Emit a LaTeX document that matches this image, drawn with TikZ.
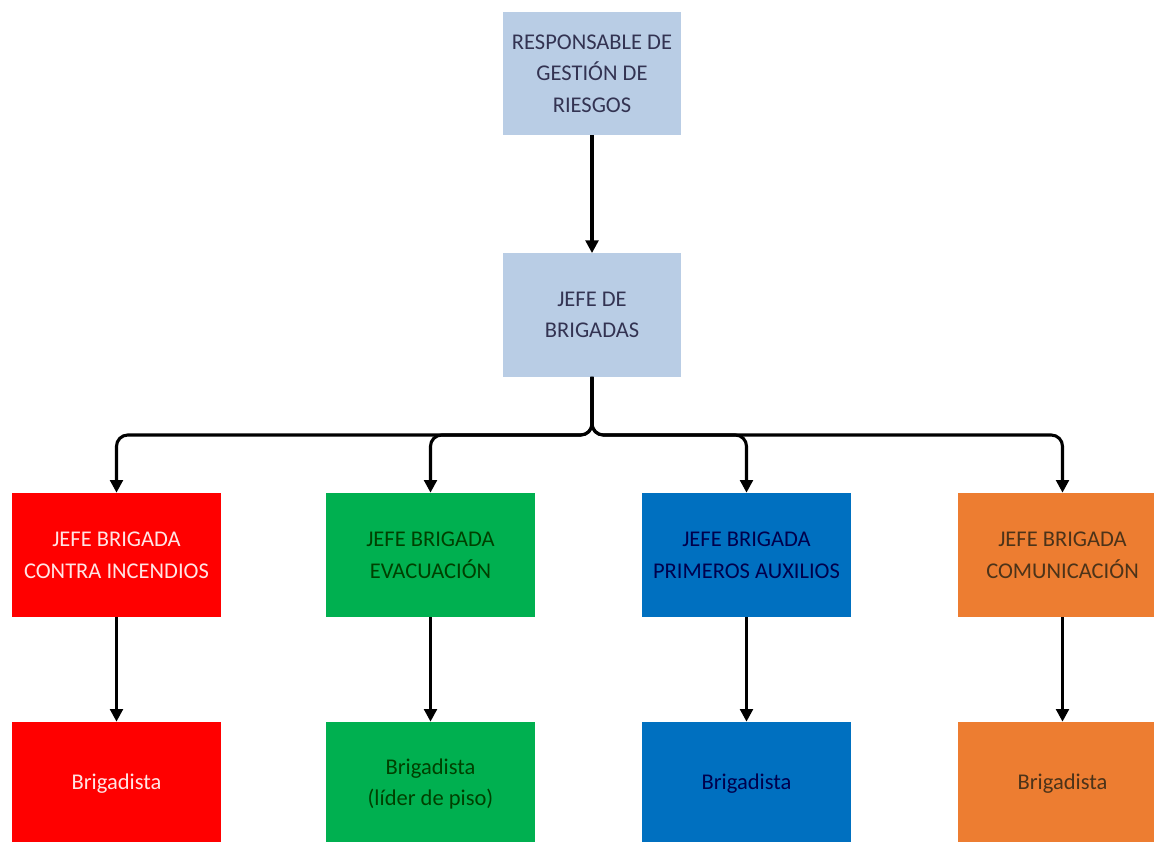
\documentclass[tikz,border=0pt]{standalone}
\usepackage{fontspec}
\setmainfont{Carlito}
\usetikzlibrary{arrows.meta}
\definecolor{azulclaro}{RGB}{185,205,229}
\definecolor{rojo}{RGB}{255,0,0}
\definecolor{verde}{RGB}{0,176,80}
\definecolor{azul}{RGB}{0,112,192}
\definecolor{naranja}{RGB}{237,125,49}
\begin{document}
\begin{tikzpicture}[x=0.025cm,y=-0.025cm,
    caja/.style={draw=none,align=center,inner sep=0pt,
      font=\fontsize{16}{22.5}\selectfont},
    jefe/.style={caja,fill=azulclaro,text=black!80!blue!60!gray,
      minimum width=4.45cm,minimum height=3.08cm},
    brigada/.style={caja,minimum width=5.23cm,minimum height=3.1cm},
    flecha/.style={line width=2.2pt,rounded corners=8,
      -{Triangle[length=9pt,width=9pt]}}]
  \clip (0,0) rectangle (1154,841);
  \fill[white] (0,0) rectangle (1154,841);

  \node[jefe] (resp) at (592,73.5) {RESPONSABLE DE\\GESTIÓN DE\\RIESGOS};
  \node[jefe] (jefebr) at (592,315) {JEFE DE\\BRIGADAS};

  \node[brigada,fill=rojo,text=red!10!white] (inc) at (116.5,555) {JEFE BRIGADA\\CONTRA INCENDIOS};
  \node[brigada,fill=verde,text=green!25!black] (evac) at (430.5,555) {JEFE BRIGADA\\EVACUACIÓN};
  \node[brigada,fill=azul,text=blue!30!black] (aux) at (746.5,555) {JEFE BRIGADA\\PRIMEROS AUXILIOS};
  \node[brigada,fill=naranja,text=brown!40!black] (com) at (1062.5,555) {JEFE BRIGADA\\COMUNICACIÓN};

  \node[brigada,fill=rojo,text=red!10!white] (binc) at (116.5,784) {Brigadista};
  \node[brigada,fill=verde,text=green!25!black] (bevac) at (430.5,784) {Brigadista\\(líder de piso)};
  \node[brigada,fill=azul,text=blue!30!black] (baux) at (746.5,784) {Brigadista};
  \node[brigada,fill=naranja,text=brown!40!black] (bcom) at (1062.5,784) {Brigadista};

  \coordinate (bus) at (592,435);

  \draw[flecha] (resp.south) -- (jefebr.north);
  \draw[flecha] (jefebr.south) -- (bus) -| (inc.north);
  \draw[flecha] (jefebr.south) -- (bus) -| (evac.north);
  \draw[flecha] (jefebr.south) -- (bus) -| (aux.north);
  \draw[flecha] (jefebr.south) -- (bus) -| (com.north);

  \draw[flecha] (inc.south) -- (binc.north);
  \draw[flecha] (evac.south) -- (bevac.north);
  \draw[flecha] (aux.south) -- (baux.north);
  \draw[flecha] (com.south) -- (bcom.north);
\end{tikzpicture}
\end{document}
